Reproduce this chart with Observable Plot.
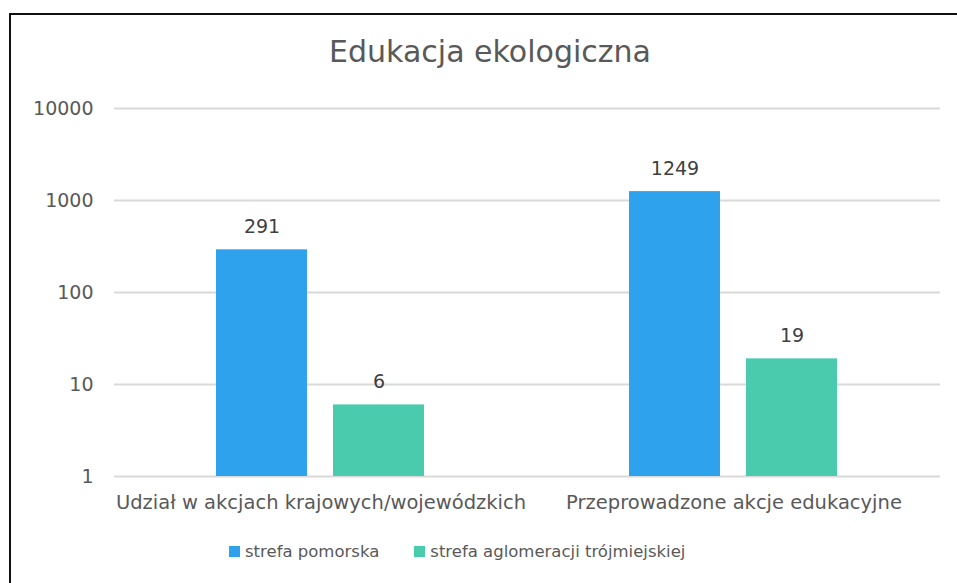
<!DOCTYPE html>
<html>
<head>
<meta charset="utf-8">
<script src="https://cdn.jsdelivr.net/npm/d3@7"></script>
<script src="https://cdn.jsdelivr.net/npm/@observablehq/plot@0.6"></script>
<style>
  html, body { margin: 0; padding: 0; background: #fff; width: 957px; height: 583px; overflow: hidden; }
  body { position: relative; font-family: "DejaVu Sans", sans-serif; }
  #frame { position: absolute; left: 9px; top: 13px; width: 960px; height: 620px; border: 2px solid #111; box-sizing: border-box; }
  #title { position: absolute; left: 0; width: 980px; top: 34px; text-align: center; font-size: 30px; color: #595959; }
  #chart { position: absolute; left: 0; top: 0; }
  #legend { position: absolute; left: 229px; top: 542px; display: flex; align-items: center; font-size: 16.5px; color: #595959; }
  .item { display: flex; align-items: center; margin-right: 35px; }
  .sw { width: 11px; height: 11px; margin-right: 5px; }
</style>
</head>
<body>
<div id="frame"></div>
<div id="title">Edukacja ekologiczna</div>
<div id="chart"></div>
<div id="legend"></div>
<script>
const categories = ["Udział w akcjach krajowych/wojewódzkich", "Przeprowadzone akcje edukacyjne"];
const seriesNames = ["strefa pomorska", "strefa aglomeracji trójmiejskiej"];
const seriesColors = ["#2EA2EC", "#4BCBAD"];
const pomorska = [291, 1249];
const aglomeracja = [6, 19];
const yTicks = [1, 10, 100, 1000, 10000];

const data = [];
categories.forEach((c, i) => {
  data.push({category: c, series: seriesNames[0], value: pomorska[i]});
  data.push({category: c, series: seriesNames[1], value: aglomeracja[i]});
});

const plot = Plot.plot({
  width: 957,
  height: 520,
  marginLeft: 113,
  marginRight: 17,
  marginTop: 108,
  marginBottom: 44,
  style: {fontFamily: "DejaVu Sans, sans-serif", background: "transparent"},
  fx: {domain: categories, padding: 0, label: null},
  x: {domain: seriesNames, paddingInner: 0.22, paddingOuter: 0.862, axis: null},
  y: {type: "log", domain: [1, 10000], label: null},
  color: {domain: seriesNames, range: seriesColors},
  marks: [
    Plot.ruleY(yTicks, {stroke: "#d9d9d9", strokeWidth: 2}),
    Plot.barY(data, {fx: "category", x: "series", y1: 1, y2: "value", fill: "series"}),
    Plot.text(data, {fx: "category", x: "series", y: "value", text: d => String(d.value), dy: -23, fill: "#404040", fontSize: 19}),
    Plot.axisY(yTicks, {tickSize: 0, tickPadding: 21, tickFormat: d => String(d), fontSize: 19, fill: "#595959", label: null}),
    Plot.axisFx({anchor: "bottom", tickSize: 0, tickPadding: 19, fontSize: 19.5, fill: "#595959", label: null})
  ]
});
document.getElementById("chart").appendChild(plot);

const legend = document.getElementById("legend");
seriesNames.forEach((s, i) => {
  const item = document.createElement("div");
  item.className = "item";
  const sw = document.createElement("div");
  sw.className = "sw";
  sw.style.background = seriesColors[i];
  const t = document.createElement("span");
  t.textContent = s;
  item.appendChild(sw);
  item.appendChild(t);
  legend.appendChild(item);
});
</script>
</body>
</html>
